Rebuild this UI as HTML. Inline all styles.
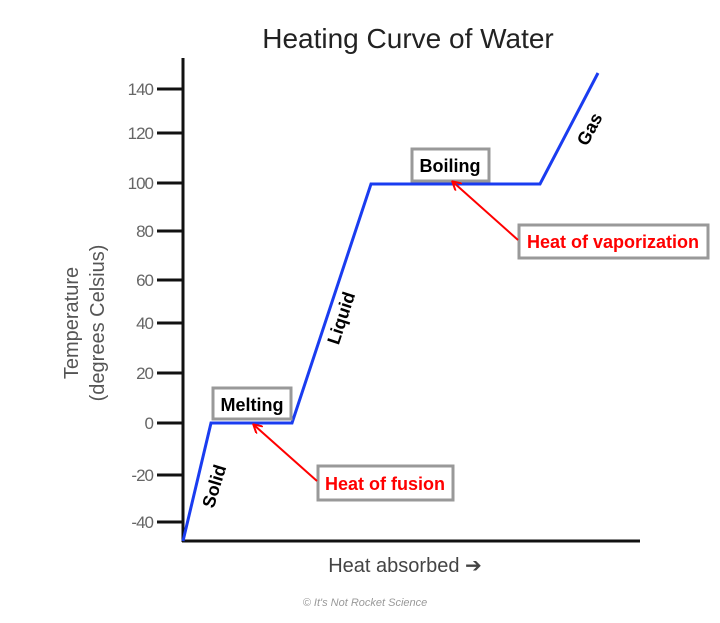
<!DOCTYPE html>
<html><head><style>
body{margin:0;background:#fff;width:720px;height:618px;overflow:hidden}
svg text{font-family:"Liberation Sans",sans-serif}
</style></head><body>
<svg width="720" height="618" viewBox="0 0 720 618">
<defs><marker id="ah" markerWidth="10" markerHeight="10" refX="8" refY="5" orient="auto" markerUnits="userSpaceOnUse"><path d="M0,0 L9,5 L0,10" fill="none" stroke="#f00" stroke-width="2"/></marker></defs>
<text x="408" y="48" font-size="28" text-anchor="middle" fill="#222">Heating Curve of Water</text>
<line x1="183" y1="58" x2="183" y2="542" stroke="#111" stroke-width="3"/>
<line x1="182" y1="541" x2="640" y2="541" stroke="#111" stroke-width="3"/>
<g stroke="#111" stroke-width="3">
<line x1="157" y1="89" x2="183" y2="89"/><line x1="157" y1="133" x2="183" y2="133"/>
<line x1="157" y1="183" x2="183" y2="183"/><line x1="157" y1="231" x2="183" y2="231"/>
<line x1="157" y1="280" x2="183" y2="280"/><line x1="157" y1="323" x2="183" y2="323"/>
<line x1="157" y1="373" x2="183" y2="373"/><line x1="157" y1="423" x2="183" y2="423"/>
<line x1="157" y1="475" x2="183" y2="475"/><line x1="157" y1="522" x2="183" y2="522"/>
</g>
<g font-size="17" fill="#666" text-anchor="end" letter-spacing="-1">
<text x="153" y="95">140</text><text x="153" y="139">120</text><text x="153" y="189">100</text>
<text x="153" y="237">80</text><text x="153" y="286">60</text><text x="153" y="329">40</text>
<text x="153" y="379">20</text><text x="153" y="429">0</text><text x="153" y="481">-20</text><text x="153" y="528">-40</text>
</g>
<text transform="translate(78,323) rotate(-90)" font-size="20" fill="#555" text-anchor="middle">Temperature</text>
<text transform="translate(104,323) rotate(-90)" font-size="20" fill="#555" text-anchor="middle">(degrees Celsius)</text>
<text x="405" y="572" font-size="20" fill="#444" text-anchor="middle">Heat absorbed ➔</text>
<text x="365" y="606" font-size="11" fill="#999" text-anchor="middle" font-style="italic">© It's Not Rocket Science</text>
<polyline points="183,541 211,423 292,423 371,184 540,184 598,73" fill="none" stroke="#1a3cf0" stroke-width="3"/>
<g font-weight="bold" font-size="18" fill="#000">
<text transform="translate(220,488) rotate(-73)" text-anchor="middle">Solid</text>
<text transform="translate(347,320) rotate(-72)" text-anchor="middle">Liquid</text>
<text transform="translate(595,132) rotate(-62)" text-anchor="middle">Gas</text>
</g>
<rect x="213" y="388" width="78" height="31" fill="#fff" stroke="#999" stroke-width="3"/>
<text x="252" y="411" font-size="18" font-weight="bold" text-anchor="middle">Melting</text>
<rect x="412" y="149" width="77" height="32" fill="#fff" stroke="#999" stroke-width="3"/>
<text x="450" y="172" font-size="18" font-weight="bold" text-anchor="middle">Boiling</text>
<rect x="318" y="466" width="135" height="34" fill="#fff" stroke="#999" stroke-width="3"/>
<text x="385" y="490" font-size="18" font-weight="bold" fill="#f00" text-anchor="middle">Heat of fusion</text>
<rect x="519" y="225" width="189" height="33" fill="#fff" stroke="#999" stroke-width="3"/>
<text x="613" y="248" font-size="18" font-weight="bold" fill="#f00" text-anchor="middle">Heat of vaporization</text>
<line x1="317" y1="481" x2="254" y2="425" stroke="#f00" stroke-width="2" marker-end="url(#ah)"/>
<line x1="518" y1="240" x2="453" y2="182" stroke="#f00" stroke-width="2" marker-end="url(#ah)"/>
</svg>
</body></html>
